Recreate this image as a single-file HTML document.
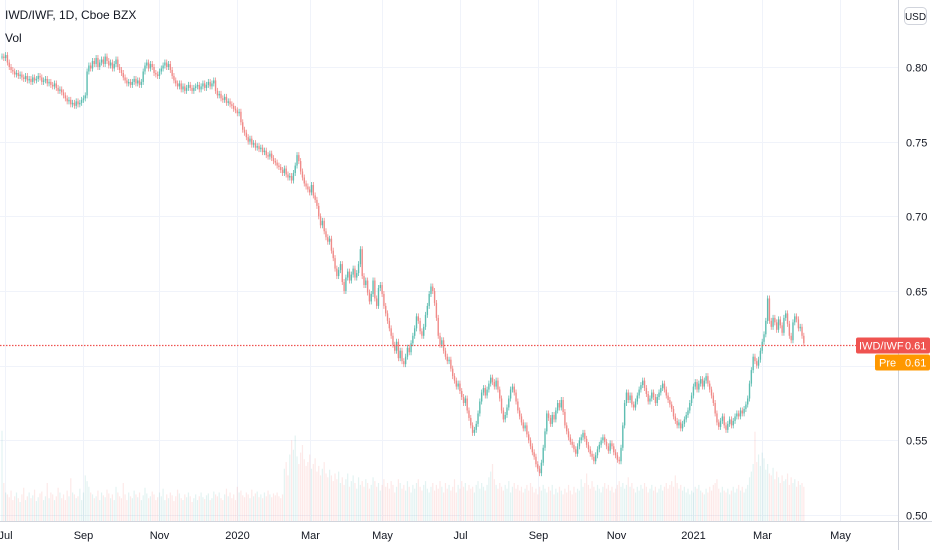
<!DOCTYPE html>
<html><head><meta charset="utf-8"><style>
html,body{margin:0;padding:0;background:#fff;}
svg{display:block;font-family:"Liberation Sans",sans-serif;}
</style></head><body>
<svg id="chart" width="932" height="550" xmlns="http://www.w3.org/2000/svg">
<g id="grid"></g>
<g id="vols"></g>
<g id="candles"></g>
<g id="axes"></g>
<text x="5" y="19" font-size="12" fill="#131722">IWD/IWF, 1D, Cboe BZX</text>
<text x="5" y="42" font-size="12" fill="#131722">Vol</text>
<rect x="904.5" y="7.5" width="22" height="17" rx="4" fill="#fff" stroke="#d1d4dc"/>
<text x="915.5" y="20" font-size="10" fill="#131722" text-anchor="middle">USD</text>
</svg>
<script>
const closes=[807,806,808,803,800,798,797,795,796,
794,795,793,792,794,791,792,790,793,791,792,794,793,790,791,792,789,
790,788,787,789,786,784,785,783,
781,779,777,778,775,776,774,777,775,776,778,779,781,
797,
801,799,804,802,806,800,803,805,802,807,804,801,803,799,802,805,800,798,796,
793,791,789,790,788,790,792,789,791,788,790,
797,801,803,799,802,800,796,
795,794,797,799,
801,803,800,802,798,
794,791,789,787,789,785,787,784,786,788,786,784,786,
787,788,785,787,789,786,788,790,787,789,791,
784,781,782,779,778,780,776,777,775,
774,772,771,769,770,
763,758,756,753,750,752,748,749,746,747,745,
746,743,744,741,740,742,739,737,
736,734,733,731,729,732,728,726,727,724,
729,734,741,737,
730,726,722,720,718,716,
721,714,711,707,
700,694,697,690,686,683,685,677,672,
665,660,664,668,656,650,659,663,657,661,665,659,
662,668,678,
660,654,657,649,643,
648,657,645,640,652,654,
648,640,635,630,625,
620,614,610,616,605,610,603,601,
606,612,609,615,620,625,633,630,
623,620,626,634,640,648,653,
650,642,632,620,614,617,
610,606,603,604,598,593,590,
586,588,583,579,575,578,
570,565,560,555,557,561,
568,576,582,585,580,584,
588,592,589,586,590,
584,578,570,564,567,572,
578,584,586,582,576,570,
566,562,558,560,554,550,
546,542,539,534,531,528,
535,545,556,568,565,561,
567,564,570,575,572,577,
569,560,556,552,549,547,
544,541,546,550,552,555,
551,547,544,541,539,536,
540,544,547,550,552,549,
546,543,548,546,542,540,
537,536,545,560,575,
582,577,580,574,572,576,
580,584,587,590,585,581,
576,578,582,579,575,579,
582,585,588,584,580,577,
574,571,566,563,560,562,
558,561,564,567,570,575,
580,586,589,584,588,591,
586,590,593,588,584,580,
575,568,562,559,563,566,
560,557,561,564,560,563,
566,568,566,570,568,571,
574,578,588,597,606,603,
600,604,610,616,621,630,
645,630,626,632,629,624,
631,627,622,632,635,628,
620,617,629,633,631,625,
626,620,615];
const volumes=[95,40,30,28,25,32,22,26,30,24,20,28,35,22,26,30,24,27,33,21,
25,29,31,22,26,40,24,30,28,22,26,35,30,24,28,22,32,26,45,30,
28,24,26,34,22,30,48,42,36,30,28,24,26,32,22,30,27,25,33,29,
24,28,22,36,30,26,24,40,28,22,30,26,24,32,28,25,30,22,27,35,
29,24,26,31,28,22,25,30,26,34,22,28,24,30,27,21,26,33,29,24,
22,28,25,30,26,20,24,28,22,26,30,25,23,27,29,22,24,31,28,26,
30,24,22,28,34,26,30,24,28,22,36,30,32,27,25,30,28,24,33,26,
29,31,25,28,24,30,26,32,28,25,29,27,30,26,24,28,55,62,48,70,
85,75,90,68,60,72,80,65,58,62,70,55,60,66,52,58,48,55,62,50,
46,54,48,42,50,44,52,40,46,38,44,50,36,42,48,40,34,46,38,42,
36,44,40,34,38,46,42,36,40,32,38,44,36,40,34,42,38,30,36,44,
40,34,38,32,42,36,30,38,34,40,44,36,32,38,42,34,30,36,40,32,
38,34,42,36,30,40,34,38,32,36,44,30,38,34,42,36,40,32,38,34,
36,30,38,42,34,40,36,32,38,46,52,60,44,38,34,40,36,32,38,34,
42,30,36,40,34,38,32,36,30,34,38,32,40,36,30,34,28,36,32,38,
34,30,36,32,38,28,34,30,36,32,28,34,30,38,32,28,36,30,34,32,
44,36,40,50,38,34,42,36,32,38,34,30,36,40,34,38,32,36,30,34,
38,42,36,40,34,38,46,36,40,34,30,36,32,38,34,40,36,30,34,38,
32,36,30,34,38,32,36,40,34,38,42,36,48,40,34,38,32,36,30,34,
28,32,30,36,34,38,32,30,28,34,30,36,32,38,40,44,34,30,36,32,
30,34,28,32,36,30,34,38,32,36,30,34,38,
46,52,60,94,62,70,58,72,66,54,60,50,48,56,44,52,46,40,48,42,
44,50,38,46,40,44,36,42,38,40,36,34,38,40,44,38,36,42,46,40,42];
const yTicks=[0.50,0.55,0.60,0.65,0.70,0.75,0.80];
const xLabels=["Jul","Sep","Nov","2020","Mar","May","Jul","Sep","Nov","2021","Mar","May"];
const xLabelIdx=[1.5,45,87,130,170,210,253,296,339,382,420,463];
const lastPrice=0.614;

const NS="http://www.w3.org/2000/svg";
const X0=2,STEP=1.81,PLOT_R=898,BASE=521;
function xs(i){return X0+i*STEP;}
function ys(p){return 67+(0.80-p)*1493.3;}
function vh(v){return v*0.95;}
function mk(tag,attrs,parent){const e=document.createElementNS(NS,tag);for(const k in attrs)e.setAttribute(k,attrs[k]);parent.appendChild(e);return e;}
const grid=document.getElementById('grid'),axes=document.getElementById('axes'),vols=document.getElementById('vols'),cg=document.getElementById('candles');
yTicks.forEach(t=>{
  const y=Math.round(ys(t))+0.5;
  const l=mk('line',{x1:0,x2:PLOT_R,y1:y,y2:y,stroke:'#f0f3fa'},grid);
  
  
  const tx=mk('text',{x:906,y:y+4,'font-size':11,fill:'#131722'},axes);
  tx.textContent=t.toFixed(2);
  
  
});
xLabels.forEach((s,k)=>{
  const x=Math.round(xs(xLabelIdx[k]))+0.5;
  const l=mk('line',{x1:x,x2:x,y1:0,y2:BASE,stroke:'#f0f3fa'},grid);
  
  
  const tx=mk('text',{x:x,y:539,'font-size':11,fill:'#131722','text-anchor':'middle'},axes);
  tx.textContent=s;
  
  
});
const ax1=mk('line',{x1:0,x2:932,y1:BASE+0.5,y2:BASE+0.5,stroke:'#d1d4dc'},axes);


const ax2=mk('line',{x1:PLOT_R+0.5,x2:PLOT_R+0.5,y1:0,y2:550,stroke:'#d1d4dc'},axes);



closes.forEach((c,i)=>{
  const o=i>0?closes[i-1]:c;
  const up=c>=o;
  const x=xs(i);
  const v=volumes[i]||0;
  const vb=mk('rect',{x:x-0.6,y:BASE-vh(v),width:1.2,height:vh(v),fill:up?'rgba(38,166,154,0.13)':'rgba(239,83,80,0.13)'},vols);
  
  
  const hi=Math.max(o,c)+2,lo=Math.min(o,c)-2;
  const col=up?'#5dbdb1':'#f08a88';
  const w=mk('line',{x1:x,x2:x,y1:ys(hi/1000),y2:ys(lo/1000),stroke:col,'stroke-width':0.8},cg);
  
  
  const yt=ys(Math.max(o,c)/1000),yb=ys(Math.min(o,c)/1000);
  const b=mk('rect',{x:x-0.7,y:yt,width:1.4,height:Math.max(1,yb-yt),fill:col},cg);
  
  
});
const ly=Math.round(ys(lastPrice))+0.5;
const pl=mk('line',{x1:0,x2:857,y1:ly,y2:ly,stroke:'#ef5350','stroke-width':1.2,'stroke-dasharray':'1.5,1.5'},axes);


const r1=mk('rect',{x:856,y:ly-8,width:74,height:16,fill:'#ef5350',rx:2},axes);


const t1=mk('text',{x:859,y:ly+4,'font-size':11,fill:'#fff'},axes);
t1.textContent='IWD/IWF';


const t2=mk('text',{x:905,y:ly+4,'font-size':11,fill:'#fff'},axes);
t2.textContent=lastPrice.toFixed(2);


const r2=mk('rect',{x:875,y:ly+9,width:55,height:16,fill:'#ff9800',rx:2},axes);


const t3=mk('text',{x:879,y:ly+21,'font-size':11,fill:'#fff'},axes);
t3.textContent='Pre';


const t4=mk('text',{x:905,y:ly+21,'font-size':11,fill:'#fff'},axes);
t4.textContent=lastPrice.toFixed(2);


</script>
</body></html>
